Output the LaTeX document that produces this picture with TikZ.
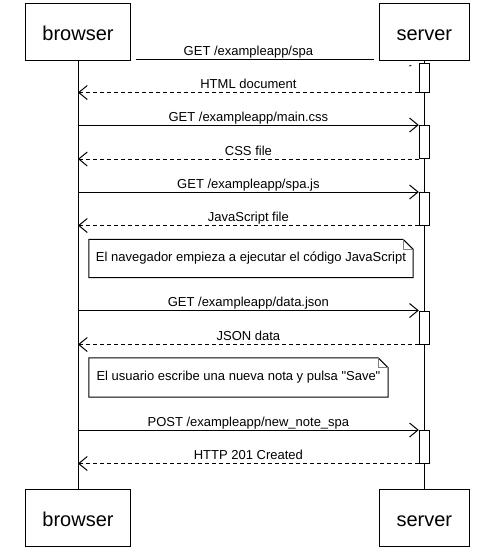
\documentclass[tikz,border=0pt]{standalone}
\usepackage{fontspec}
\setmainfont{Liberation Sans}[Ligatures=TeXOff]
\usetikzlibrary{arrows.meta,calc}
\tikzset{
 actor/.style={draw, fill=white, line width=1pt, minimum height=56.7pt, inner sep=0pt, text height=16.7pt, text depth=0pt, font=\fontsize{20}{24}\selectfont},
 halo/.style={preaction={draw=white, line width=10pt}},
 bar/.style={draw, fill=white, line width=1pt, minimum width=10pt, inner sep=0pt},
 req/.style={line width=1pt, -{Straight Barb[length=8.5pt,width=14pt,line width=1pt]}},
 resp/.style={req, dash pattern=on 4pt off 3pt},
 lbl/.style={font=\fontsize{13}{15}\selectfont, anchor=base, yshift=4pt, inner sep=0pt},
 notebox/.style={inner sep=0pt, font=\fontsize{13}{15}\selectfont},
 noteline/.style={line width=1pt},
 fold/.style={line width=0.7pt, draw=gray},
 life/.style={line width=1pt}
}
\begin{document}
\begin{tikzpicture}[x=1pt,y=-1pt]
\useasboundingbox (0,0) rectangle (501,552);
% activation bar positions (drawn later), first arrow drawn under the top boxes
\path (424.3,77.5) node[bar, draw=none, fill=none, minimum height=29pt] (a0) {};
\path (78,31.65) node[minimum width=105pt, minimum height=56.7pt, inner sep=0pt] (btpos) {};
\draw[req] ([yshift=1pt]btpos.south) -- ([yshift=1pt]btpos.south -| a0.west)
  node[lbl, pos=0.5] {GET /exampleapp/spa};
% actors
\node[actor, halo, minimum width=105pt] (bt) at (78,31.65) {browser};
\node[actor, halo, minimum width=90.3pt] (st) at (424.3,31.65) {server};
\node[actor, minimum width=105pt] (bb) at (78,518.3) {browser};
\node[actor, minimum width=90.3pt] (sb) at (424.3,518.3) {server};
% lifelines
\draw[life] (bt) -- (bb);
\draw[life] (st) -- (sb);
% activation bars
\node[bar, minimum height=29pt] (a1) at (424.3,77.5) {};
\node[bar, minimum height=33pt] (a2) at (424.3,142) {};
\node[bar, minimum height=32.5pt] (a3) at (424.3,208.75) {};
\node[bar, minimum height=33pt] (a4) at (424.3,327.5) {};
\node[bar, minimum height=32.5pt] (a5) at (424.3,446.75) {};
% messages
\draw[resp] (a1.south west) -- node[lbl] {HTML document} (a1.south west -| bt.south);
\draw[req] (a2.north west -| bt.south) -- node[lbl] {GET /exampleapp/main.css} (a2.north west);
\draw[resp] (a2.south west) -- node[lbl] {CSS file} (a2.south west -| bt.south);
\draw[req] (a3.north west -| bt.south) -- node[lbl] {GET /exampleapp/spa.js} (a3.north west);
\draw[resp] (a3.south west) -- node[lbl] {JavaScript file} (a3.south west -| bt.south);
\draw[req] (a4.north west -| bt.south) -- node[lbl] {GET /exampleapp/data.json} (a4.north west);
\draw[resp] (a4.south west) -- node[lbl] {JSON data} (a4.south west -| bt.south);
\draw[req] (a5.north west -| bt.south) -- node[lbl] {POST /exampleapp/new\_note\_spa} (a5.north west);
\draw[resp] (a5.south west) -- node[lbl] {HTTP 201 Created} (a5.south west -| bt.south);
% notes
\node[notebox, minimum width=324pt, minimum height=38pt] (n1) at (251,258.5) {El navegador empieza a ejecutar el código JavaScript};
\draw[noteline] (n1.south west) -- (n1.north west) -- ([xshift=-10pt]n1.north east) -- ([yshift=-10pt]n1.north east) -- (n1.south east) -- cycle;
\draw[fold] ([xshift=-10pt]n1.north east) |- ([yshift=-10pt]n1.north east);
\node[notebox, minimum width=299pt, minimum height=39pt] (n2) at (238.5,377.5) {El usuario escribe una nueva nota y pulsa "Save"};
\draw[noteline] (n2.south west) -- (n2.north west) -- ([xshift=-10pt]n2.north east) -- ([yshift=-10pt]n2.north east) -- (n2.south east) -- cycle;
\draw[fold] ([xshift=-10pt]n2.north east) |- ([yshift=-10pt]n2.north east);
\end{tikzpicture}
\end{document}
